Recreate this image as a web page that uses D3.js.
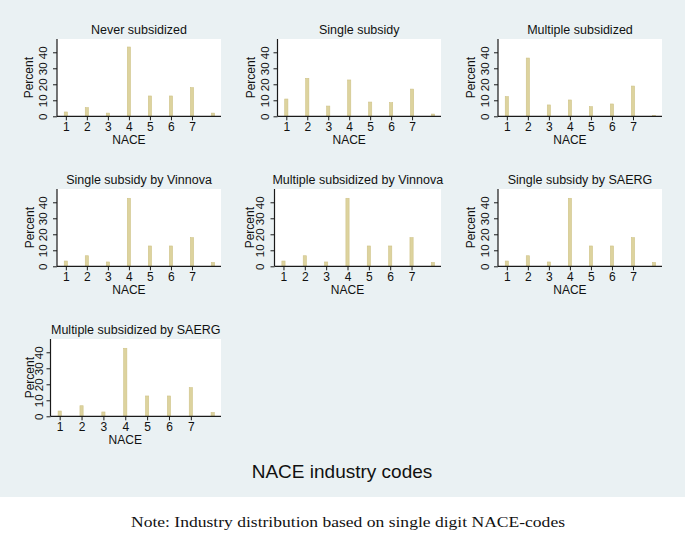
<!DOCTYPE html>
<html><head><meta charset="utf-8">
<script src="https://cdn.jsdelivr.net/npm/d3@7"></script>
<style>body{margin:0;background:#fff}svg{display:block}</style>
</head><body>
<svg id="c" width="685" height="533"></svg>
<script>
// ---- data ----
const categories = [1, 2, 3, 4, 5, 6, 7, 8];
const xTickLabels = ["1", "2", "3", "4", "5", "6", "7"];
const yTickValues = [0, 10, 20, 30, 40];
const panelTitles = ["Never subsidized", "Single subsidy", "Multiple subsidized",
  "Single subsidy by Vinnova", "Multiple subsidized by Vinnova", "Single subsidy by SAERG",
  "Multiple subsidized by SAERG"];
const neverSubsidized = [2.7, 5.4, 2.0, 43.3, 12.7, 12.7, 17.9, 2.0];
const singleSubsidy = [10.8, 23.7, 6.4, 22.7, 8.9, 8.5, 17.0, 1.4];
const multipleSubsidized = [12.3, 36.4, 7.1, 10.2, 6.0, 7.7, 18.9, 0.6];
const singleVinnova = [3.3, 6.6, 2.7, 42.5, 12.7, 12.7, 17.9, 2.4];
const multipleVinnova = [3.3, 6.6, 2.7, 42.5, 12.7, 12.7, 17.9, 2.4];
const singleSAERG = [3.3, 6.6, 2.7, 42.5, 12.7, 12.7, 17.9, 2.4];
const multipleSAERG = [3.3, 6.6, 2.7, 42.5, 12.7, 12.7, 17.9, 2.4];
const seriesList = [neverSubsidized, singleSubsidy, multipleSubsidized,
  singleVinnova, multipleVinnova, singleSAERG, multipleSAERG];

// ---- layout (positions only) ----
const layout = [
  {left: 57,   right: 221,   top: 39,  ylab: 42.5, ptitle: 29},
  {left: 277.5,right: 441,   top: 39,  ylab: 264.5, ptitle: 251},
  {left: 498,  right: 662,   top: 39,  ylab: 484.5, ptitle: 471},
  {left: 57,   right: 221,   top: 189, ylab: 42.5, ptitle: 29.5},
  {left: 274.5,right: 441,   top: 189, ylab: 259.5, ptitle: 250},
  {left: 498,  right: 662,   top: 189, ylab: 484.5, ptitle: 471},
  {left: 50.5, right: 221,   top: 339, ylab: 39, ptitle: 30}
];
const plotH = 77.3;

const svg = d3.select("#c");
svg.append("rect").attr("x",0).attr("y",0).attr("width",685).attr("height",497).attr("fill","#eaf1f3");

const sans = "'Liberation Sans', Arial, sans-serif";
const axisColor = "#1a1a1a";

layout.forEach((L, i) => {
  const data = seriesList[i];
  const g = svg.append("g");
  const x = d3.scaleLinear().domain([0.58, 8.38]).range([L.left, L.right]);
  const y = d3.scaleLinear().domain([0, 48.3]).range([L.top + plotH, L.top]);

  g.append("rect").attr("x", L.left).attr("y", L.top).attr("width", L.right - L.left)
    .attr("height", plotH).attr("fill", "#ffffff");

  g.selectAll("rect.bar").data(categories).enter().append("rect").attr("class","bar")
    .attr("x", d => x(d) - 1.6).attr("width", 3.2)
    .attr("y", (d, j) => y(data[j])).attr("height", (d, j) => y(0) - y(data[j]))
    .attr("fill", "#ddd39e").attr("stroke", "#cfc389").attr("stroke-width", 0.6);

  // x axis
  const xAxis = d3.axisBottom(x).tickValues(categories.slice(0, 7))
    .tickFormat((d, j) => xTickLabels[j]).tickSize(4).tickSizeOuter(0);
  const xa = g.append("g").attr("transform", `translate(0,${y(0)})`).call(xAxis);
  xa.select(".domain").remove();
  xa.append("line").attr("x1", L.left).attr("x2", L.right).attr("stroke", axisColor).attr("stroke-width", 1.2);
  xa.selectAll(".tick line").attr("stroke", axisColor);
  xa.selectAll(".tick text").attr("font-family", sans).attr("font-size", 12).attr("fill", "#111").attr("y", 6);

  // y axis
  const yAxis = d3.axisLeft(y).tickValues(yTickValues).tickSize(4).tickSizeOuter(0);
  const ya = g.append("g").attr("transform", `translate(${L.left},0)`).call(yAxis);
  ya.select(".domain").remove();
  ya.append("line").attr("y1", L.top).attr("y2", y(0)).attr("stroke", axisColor).attr("stroke-width", 1.2);
  ya.selectAll(".tick line").attr("stroke", axisColor);
  ya.selectAll(".tick text").attr("font-family", sans).attr("font-size", 11.5).attr("fill", "#111")
    .attr("x", null).attr("dy", null).attr("text-anchor", "middle")
    .attr("transform", `translate(${L.ylab - L.left + 4},0) rotate(-90)`)
    .attr("y", 0);

  g.append("text").attr("transform", `translate(${L.ptitle + 4},${L.top + plotH/2}) rotate(-90)`)
    .attr("text-anchor", "middle").attr("font-family", sans).attr("font-size", 12).attr("fill", "#111")
    .text("Percent");

  g.append("text").attr("x", x(4)).attr("y", L.top + plotH + 28)
    .attr("text-anchor", "middle").attr("font-family", sans).attr("font-size", 12).attr("fill", "#111")
    .text("NACE");

  g.append("text").attr("x", (L.left + L.right) / 2).attr("y", L.top - 5)
    .attr("text-anchor", "middle").attr("font-family", sans).attr("font-size", 12.5).attr("fill", "#111")
    .text(panelTitles[i]);
});

svg.append("text").attr("x", 342).attr("y", 478).attr("text-anchor", "middle")
  .attr("font-family", sans).attr("font-size", 19).attr("fill", "#111").text("NACE industry codes");

svg.append("text").attr("x", 131).attr("y", 527).attr("textLength", 434).attr("lengthAdjust", "spacingAndGlyphs")
  .attr("font-family", "'Liberation Serif', 'DejaVu Serif', serif").attr("font-size", 14).attr("fill", "#111")
  .text("Note: Industry distribution based on single digit NACE-codes");
</script>
</body></html>
